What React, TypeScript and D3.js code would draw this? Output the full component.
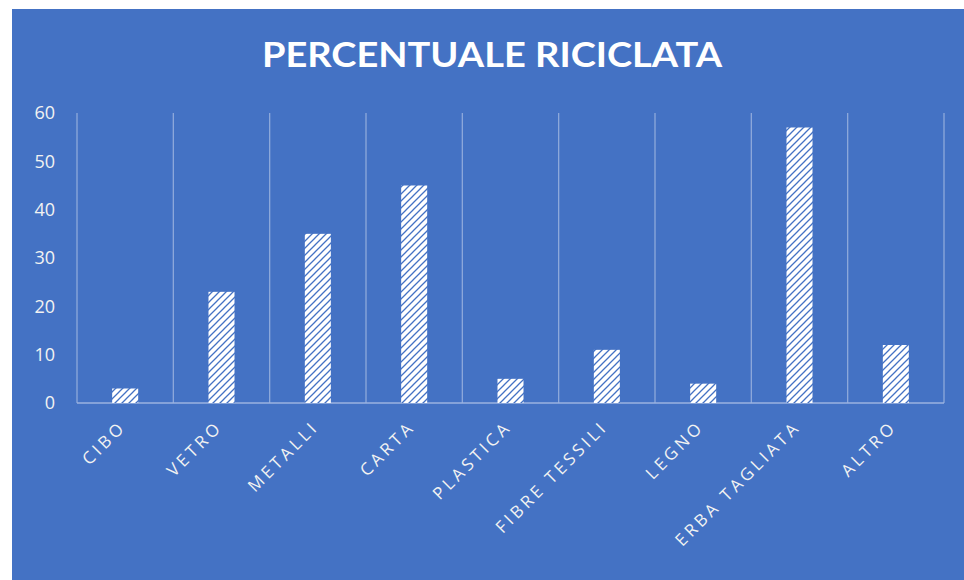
import React from "react";
import * as d3 from "d3";

const categories = ["CIBO", "VETRO", "METALLI", "CARTA", "PLASTICA", "FIBRE TESSILI", "LEGNO", "ERBA TAGLIATA", "ALTRO"];
const values = [3, 23, 35, 45, 5, 11, 4, 57, 12];
const yTicks = [0, 10, 20, 30, 40, 50, 60];
const title = "PERCENTUALE RICICLATA";

const W = 964;
const H = 580;
const BG = "#4472C4";
const plot = { left: 77, right: 944, top: 113, bottom: 403 };

export default function App() {
  const x = d3.scaleBand<string>().domain(categories).range([plot.left, plot.right]).paddingInner(0).paddingOuter(0);
  const y = d3.scaleLinear().domain([0, 60]).range([plot.bottom, plot.top]);
  const bw = x.bandwidth();
  const barW = bw * 0.27;
  const gridX = categories.map((c) => x(c) as number).concat([plot.right]);

  return (
    <svg width={W} height={H} style={{ position: "absolute", left: 0, top: 0 }}>
      <defs>
        <pattern id="hatch" width="7" height="7" patternUnits="userSpaceOnUse">
          <rect width="7" height="7" fill="#ffffff" />
          <path d="M-1,1 L1,-1 M0,7 L7,0 M6,8 L8,6" stroke={BG} strokeWidth="1.3" />
        </pattern>
      </defs>
      <rect x={0} y={0} width={W} height={H} fill="#ffffff" />
      <rect x={12} y={9} width={W - 12} height={H - 9} fill={BG} />
      <text
        x={492}
        y={67}
        textAnchor="middle"
        fill="#ffffff"
        fontFamily="Lato, 'Open Sans', sans-serif"
        fontWeight={700}
        fontSize={35}
        textLength={460}
        lengthAdjust="spacingAndGlyphs"
      >
        {title}
      </text>
      {gridX.map((gx, i) => (
        <line key={i} x1={gx} x2={gx} y1={plot.top} y2={plot.bottom} stroke="#8EA9DB" strokeWidth={1.3} />
      ))}
      <line x1={plot.left} x2={plot.right} y1={plot.bottom} y2={plot.bottom} stroke="#9BB3E0" strokeWidth={1.3} />
      {yTicks.map((t) => (
        <text
          key={t}
          x={55}
          y={y(t)}
          dy="0.35em"
          textAnchor="end"
          fill="#F2F2F2"
          fontFamily="'Open Sans', sans-serif"
          fontSize={18}
        >
          {t}
        </text>
      ))}
      {categories.map((c, i) => {
        const cx = (x(c) as number) + bw / 2;
        return (
          <rect key={c} x={cx - barW / 2} y={y(values[i])} width={barW} height={plot.bottom - y(values[i])} fill="url(#hatch)" />
        );
      })}
      {categories.map((c) => {
        const cx = (x(c) as number) + bw / 2 + 2;
        const ty = 428;
        return (
          <text
            key={c}
            transform={`translate(${cx},${ty}) rotate(-45)`}
            textAnchor="end"
            fill="#F2F2F2"
            fontFamily="'Open Sans', sans-serif"
            fontSize={17}
            letterSpacing={3.5}
          >
            {c}
          </text>
        );
      })}
    </svg>
  );
}
